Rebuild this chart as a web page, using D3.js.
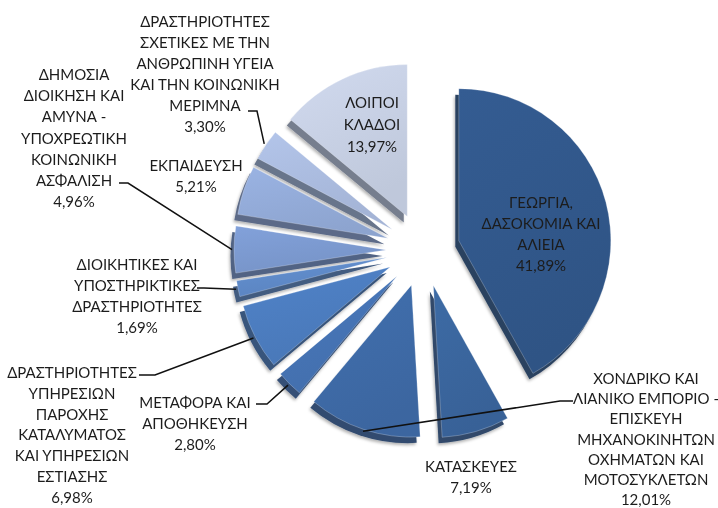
<!DOCTYPE html>
<head>
    <meta charset="utf-8">
    <script src="https://d3js.org/d3.v7.min.js"></script>
    <style>
        body { margin:0; background:#fff; }
        .label { font-family: 'Lato', sans-serif; font-size: 15px; fill: #1c1c1c; }
        .leader { stroke: #111; stroke-width: 1.5; fill: none; }
    </style>
</head>

<body>
  <script>
    // slices, clockwise from 12 o'clock
    const values = [41.89, 7.19, 12.01, 2.80, 6.98, 1.69, 4.96, 5.21, 3.30, 13.97];
    const names = [
        ['ΓΕΩΡΓΙΑ,', 'ΔΑΣΟΚΟΜΙΑ ΚΑΙ', 'ΑΛΙΕΙΑ'],
        ['ΚΑΤΑΣΚΕΥΕΣ'],
        ['ΧΟΝΔΡΙΚΟ ΚΑΙ', 'ΛΙΑΝΙΚΟ ΕΜΠΟΡΙΟ -', 'ΕΠΙΣΚΕΥΗ', 'ΜΗΧΑΝΟΚΙΝΗΤΩΝ', 'ΟΧΗΜΑΤΩΝ ΚΑΙ', 'ΜΟΤΟΣΥΚΛΕΤΩΝ'],
        ['ΜΕΤΑΦΟΡΑ ΚΑΙ', 'ΑΠΟΘΗΚΕΥΣΗ'],
        ['ΔΡΑΣΤΗΡΙΟΤΗΤΕΣ', 'ΥΠΗΡΕΣΙΩΝ', 'ΠΑΡΟΧΗΣ', 'ΚΑΤΑΛΥΜΑΤΟΣ', 'ΚΑΙ ΥΠΗΡΕΣΙΩΝ', 'ΕΣΤΙΑΣΗΣ'],
        ['ΔΙΟΙΚΗΤΙΚΕΣ ΚΑΙ', 'ΥΠΟΣΤΗΡΙΚΤΙΚΕΣ', 'ΔΡΑΣΤΗΡΙΟΤΗΤΕΣ'],
        ['ΔΗΜΟΣΙΑ', 'ΔΙΟΙΚΗΣΗ ΚΑΙ', 'ΑΜΥΝΑ -', 'ΥΠΟΧΡΕΩΤΙΚΗ', 'ΚΟΙΝΩΝΙΚΗ', 'ΑΣΦΑΛΙΣΗ'],
        ['ΕΚΠΑΙΔΕΥΣΗ'],
        ['ΔΡΑΣΤΗΡΙΟΤΗΤΕΣ', 'ΣΧΕΤΙΚΕΣ ΜΕ ΤΗΝ', 'ΑΝΘΡΩΠΙΝΗ ΥΓΕΙΑ', 'ΚΑΙ ΤΗΝ ΚΟΙΝΩΝΙΚΗ', 'ΜΕΡΙΜΝΑ'],
        ['ΛΟΙΠΟΙ', 'ΚΛΑΔΟΙ']
    ];
    const colors = ['#31578a', '#3a659c', '#3e6aa6', '#4573b3', '#4c7cbf', '#5e89c7',
                    '#7b99cf', '#92aad7', '#aabbde', '#c6cfe3'];

    // label placement: x centre, first line centre, line step, leader start/elbow
    const labelPos = [
        {x: 541, y: 203, step: 21},
        {x: 471, y: 467, step: 20.5},
        {x: 646, y: 379, step: 20.2, lead: [573, 401, 560]},
        {x: 195, y: 403, step: 21, lead: [256, 404, 267]},
        {x: 72,  y: 373, step: 20.8, lead: [139, 375, 155]},
        {x: 137, y: 265, step: 21, lead: [197, 288, 204]},
        {x: 74,  y: 75,  step: 21.2, lead: [119, 183, 128]},
        {x: 196, y: 166, step: 21},
        {x: 205, y: 22,  step: 21, lead: [248, 111, 257]},
        {x: 372, y: 103, step: 22}
    ];

    const width = 718, height = 508;
    const cx = 423, cy = 250, radius = 152, explode = 37;
    const pctFormat = v => d3.format('.2f')(v).replace('.', ',') + '%';

    const svg = d3.select('body').append('svg')
        .attr('width', width)
        .attr('height', height);

    const defs = svg.append('defs');
    const shadow = defs.append('filter').attr('id', 'soft')
        .attr('x', '-20%').attr('y', '-20%').attr('width', '140%').attr('height', '140%');
    shadow.append('feDropShadow')
        .attr('dx', -1).attr('dy', 2).attr('stdDeviation', 1.8)
        .attr('flood-color', '#000').attr('flood-opacity', 0.3);

    colors.forEach((c, i) => {
        const g = defs.append('linearGradient').attr('id', 'grad' + i)
            .attr('x1', 0).attr('y1', 0).attr('x2', 0.4).attr('y2', 1);
        g.append('stop').attr('offset', '0%').attr('stop-color', d3.color(c).brighter(0.15));
        g.append('stop').attr('offset', '100%').attr('stop-color', d3.color(c).darker(0.1));
    });

    const pie = d3.pie().sort(null).value(d => d)(values);
    const arc = d3.arc().innerRadius(0).outerRadius(radius);

    const dir = a => [Math.sin(a), -Math.cos(a)];
    const mid = d => (d.startAngle + d.endAngle) / 2;
    const apex = d => {
        const [dx, dy] = dir(mid(d));
        return [cx + dx * explode, cy + dy * explode];
    };

    const chart = svg.append('g');

    // extruded sides
    chart.append('g').attr('filter', 'url(#soft)')
        .selectAll('path')
        .data(pie)
        .enter().append('path')
        .attr('transform', d => { const [x, y] = apex(d); return `translate(${x - 3.5},${y + 6})`; })
        .attr('fill', (d, i) => d3.interpolateRgb(colors[i], '#262c38')(0.5))
        .attr('d', arc);

    // faces
    chart.append('g')
        .selectAll('path')
        .data(pie)
        .enter().append('path')
        .attr('transform', d => { const [x, y] = apex(d); return `translate(${x},${y})`; })
        .attr('fill', (d, i) => `url(#grad${i})`)
        .attr('stroke', 'rgba(255,255,255,0.35)')
        .attr('stroke-width', 0.7)
        .attr('d', arc);

    // leader lines
    chart.append('g')
        .selectAll('path')
        .data(pie.filter((d, i) => labelPos[i].lead))
        .enter().append('path')
        .attr('class', 'leader')
        .attr('d', d => {
            const [sx, sy, ex] = labelPos[d.index].lead;
            const [ax, ay] = apex(d);
            const [dx, dy] = dir(mid(d));
            const px = ax + dx * (radius + 2), py = ay + dy * (radius + 2);
            return d3.line()([[sx, sy], [ex, sy], [px, py]]);
        });

    // labels
    const labels = chart.append('g')
        .selectAll('text')
        .data(pie)
        .enter().append('text')
        .attr('class', 'label')
        .attr('text-anchor', 'middle');

    labels.each(function(d, i) {
        const lines = names[i].concat([pctFormat(values[i])]);
        const p = labelPos[i];
        d3.select(this).selectAll('tspan')
            .data(lines)
            .enter().append('tspan')
            .attr('x', p.x)
            .attr('y', (l, k) => p.y + k * p.step + 5)
            .text(l => l);
    });
  </script>
</body>
